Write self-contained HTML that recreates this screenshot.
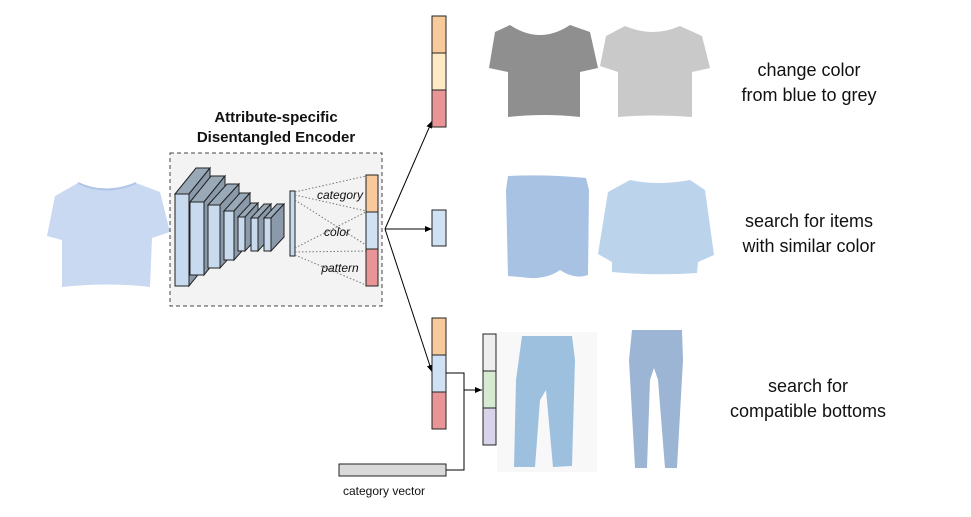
<!DOCTYPE html>
<html><head><meta charset="utf-8"><style>
html,body{margin:0;padding:0;background:#fff;}
svg{display:block;font-family:"Liberation Sans",sans-serif;}
</style></head><body>
<svg width="971" height="517" viewBox="0 0 971 517">
<defs>
<marker id="ah" markerWidth="8" markerHeight="8" refX="7" refY="3" orient="auto" markerUnits="userSpaceOnUse"><path d="M0,0 L7,3 L0,6 z" fill="#000"/></marker>
</defs>
<!-- input tshirt -->
<g>
<path d="M78,183 Q106,194 136,183 L160,192 L170,232 L152,238 L150,287 Q108,282 62,287 L62,240 L47,236 L55,196 Z" fill="#c9d9f2"/>
<path d="M78,183 Q106,196 136,183" fill="none" stroke="#b0c4e6" stroke-width="2"/>
</g>
<!-- encoder -->
<g font-weight="bold" font-size="15" text-anchor="middle" fill="#111">
<text x="276" y="122">Attribute-specific</text>
<text x="276" y="142">Disentangled Encoder</text>
</g>
<rect x="170" y="153" width="212" height="153" fill="#f3f3f3" stroke="#444" stroke-dasharray="4,3"/>
<g stroke="#222" stroke-width="1">
<polygon points="175,194 196,168 210,168 189,194" fill="#9aa9b8"/><polygon points="189,194 210,168 210,260 189,286" fill="#8b9aab"/><rect x="175" y="194" width="14" height="92" fill="#c8dbee"/>
<polygon points="190,202 211,176 225,176 204,202" fill="#9aa9b8"/><polygon points="204,202 225,176 225,249 204,275" fill="#8b9aab"/><rect x="190" y="202" width="14" height="73" fill="#c8dbee"/>
<polygon points="208,205 227,184 239,184 220,205" fill="#9aa9b8"/><polygon points="220,205 239,184 239,247 220,268" fill="#8b9aab"/><rect x="208" y="205" width="12" height="63" fill="#c8dbee"/>
<polygon points="224,211 240,193 250,193 234,211" fill="#9aa9b8"/><polygon points="234,211 250,193 250,242 234,260" fill="#8b9aab"/><rect x="224" y="211" width="10" height="49" fill="#c8dbee"/>
<polygon points="238,217 251,203 258,203 245,217" fill="#9aa9b8"/><polygon points="245,217 258,203 258,237 245,251" fill="#8b9aab"/><rect x="238" y="217" width="7" height="34" fill="#c8dbee"/>
<polygon points="251,218 264,204 271,204 258,218" fill="#9aa9b8"/><polygon points="258,218 271,204 271,237 258,251" fill="#8b9aab"/><rect x="251" y="218" width="7" height="33" fill="#c8dbee"/>
<polygon points="264,218 277,204 284,204 271,218" fill="#9aa9b8"/><polygon points="271,218 284,204 284,237 271,251" fill="#8b9aab"/><rect x="264" y="218" width="7" height="33" fill="#c8dbee"/>
<rect x="290" y="191" width="5" height="65" fill="#c8dbee"/>
</g>
<g stroke="#777" stroke-dasharray="1.5,2" fill="none">
<line x1="295" y1="192" x2="366" y2="176"/><line x1="295" y1="195" x2="366" y2="211"/>
<line x1="295" y1="200" x2="366" y2="245"/><line x1="295" y1="248" x2="366" y2="212"/>
<line x1="295" y1="252" x2="366" y2="251"/><line x1="295" y1="255" x2="366" y2="285"/>
</g>
<g font-style="italic" font-size="12" fill="#111" text-anchor="middle">
<text x="340" y="199">category</text>
<text x="337" y="236">color</text>
<text x="340" y="272">pattern</text>
</g>
<g stroke="#222">
<rect x="366" y="175" width="12" height="37" fill="#f8c99a"/><rect x="366" y="212" width="12" height="37" fill="#cfe1f2"/><rect x="366" y="249" width="12" height="37" fill="#e99597"/>
</g>
<!-- arrows -->
<g stroke="#000" fill="none" marker-end="url(#ah)">
<line x1="385" y1="229" x2="432" y2="121"/>
<line x1="385" y1="229" x2="432" y2="229"/>
<line x1="385" y1="229" x2="432" y2="372"/>
</g>
<g stroke="#222">
<rect x="432" y="16" width="14" height="37" fill="#f8c99a"/><rect x="432" y="53" width="14" height="37" fill="#fde9c4"/><rect x="432" y="90" width="14" height="37" fill="#e99597"/>
</g>
<rect x="432" y="210" width="14" height="36" fill="#cfe1f2" stroke="#222"/>
<g stroke="#222">
<rect x="432" y="318" width="14" height="37" fill="#f8c99a"/><rect x="432" y="355" width="14" height="37" fill="#cfe1f2"/><rect x="432" y="392" width="14" height="37" fill="#e99597"/>
</g>
<g stroke="#000" fill="none">
<polyline points="446,373 464,373 464,470 446,470"/>
<line x1="464" y1="390" x2="482" y2="390" marker-end="url(#ah)"/>
</g>
<g stroke="#222">
<rect x="483" y="334" width="13" height="37" fill="#eeeeee"/><rect x="483" y="371" width="13" height="37" fill="#d6ead2"/><rect x="483" y="408" width="13" height="37" fill="#d9d3ea"/>
</g>
<rect x="339" y="464" width="107" height="12" fill="#d9d9d9" stroke="#222"/>
<text x="343" y="495" font-size="12" fill="#111">category vector</text>
<!-- grey tops -->
<g>
<path d="M510,25 Q540,45 570,25 L590,32 L598,68 L580,72 L580,117 Q545,113 508,117 L508,72 L489,68 L495,32 Z" fill="#8f8f8f"/>
</g>
<g>
<path d="M625,26 Q653,38 680,26 L702,36 L710,68 L692,72 L692,117 Q652,114 618,117 L618,72 L600,66 L606,36 Z" fill="#c9c9c9"/>
</g>
<!-- blue tops -->
<g>
<path d="M508,176 Q545,174 586,178 L589,190 L588,275 Q575,280 560,270 Q545,281 520,277 L508,276 L506,190 Z" fill="#a8c2e4"/>
</g>
<g>
<path d="M630,180 Q657,186 690,180 L705,190 L714,255 L698,262 L697,273 Q655,276 612,272 L612,262 L598,254 L608,192 Z" fill="#bcd3ec"/>
</g>
<!-- jeans -->
<rect x="497" y="332" width="100" height="140" fill="#f8f8f8"/>
<g>
<path d="M522,336 L572,336 L575,360 L572,466 L553,467 L546,390 L540,400 L535,467 L514,467 L516,380 Z" fill="#9ec0df"/>
</g>
<g>
<path d="M632,330 L682,330 L683,360 L677,468 L665,468 L658,380 L654,368 L650,380 L647,468 L635,468 L629,360 Z" fill="#9cb5d5"/>
</g>
<!-- captions -->
<g font-size="18" fill="#111" text-anchor="middle">
<text><tspan x="809" y="76">change color</tspan><tspan x="809" y="101">from blue to grey</tspan></text>
<text><tspan x="809" y="227">search for items</tspan><tspan x="809" y="252">with similar color</tspan></text>
<text><tspan x="808" y="392">search for</tspan><tspan x="808" y="417">compatible bottoms</tspan></text>
</g>
</svg>
</body></html>
